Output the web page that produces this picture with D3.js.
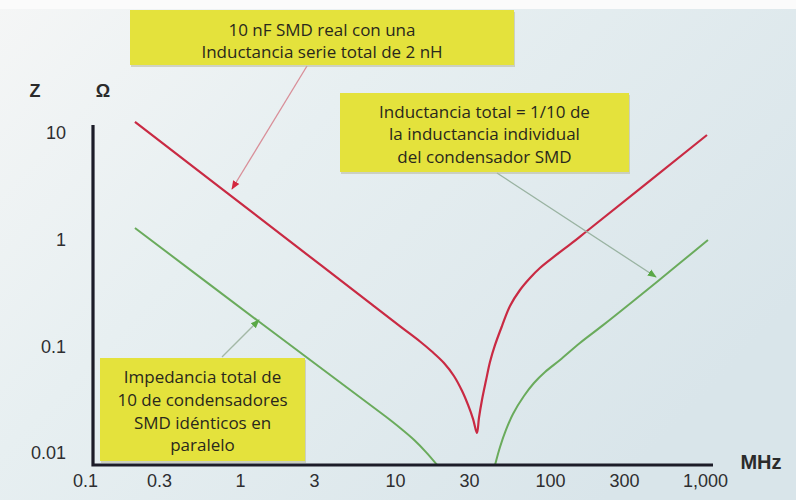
<!DOCTYPE html>
<html>
<head>
<meta charset="utf-8">
<script src="https://cdn.jsdelivr.net/npm/d3@7"></script>
<style>
  html, body { margin: 0; padding: 0; background: #ffffff; }
  svg { display: block; }
</style>
</head>
<body>
<svg id="chart" width="796" height="500"></svg>
<script>
// ---- data (frequency in MHz, impedance in ohms) ----
const xTickValues = [0.1, 0.3, 1, 3, 10, 30, 100, 300, 1000];
const xTickLabels = ["0.1", "0.3", "1", "3", "10", "30", "100", "300", "1,000"];
const yTickValues = [10, 1, 0.1, 0.01];
const yTickLabels = ["10", "1", "0.1", "0.01"];

// 10 nF SMD with 2 nH series inductance
const redFreq = [0.21, 2.44, 10.8, 14.5, 17.3, 20.7, 24.0, 27.1, 29.6, 31.9, 33.8,
                 34.8, 36.4, 38.7, 41.0, 44.2, 49.0, 55.2, 64.0, 74.3, 86.1, 107.7, 138.7, 173.3, 1030];
const redZ    = [12.7, 0.815, 0.154, 0.111, 0.0894, 0.0698, 0.0527, 0.0381, 0.0282, 0.0208, 0.0154,
                 0.0213, 0.0314, 0.0483, 0.0713, 0.103, 0.155, 0.239, 0.3375, 0.4375, 0.542, 0.703, 0.931, 1.206, 9.58];

// 10 identical SMD capacitors in parallel (null = below the axis)
const greenFreq = [0.21, 1.31, 8.62, 10.8, 13.3, 15.85, 18.7, 30,
                   44.2, 47.6, 52.0, 57.7, 67.9, 78.8, 92.9, 116, 156, 220, 498, 1045];
const greenZ    = [1.286, 0.1727, 0.0222, 0.01715, 0.01324, 0.0102, 0.00772, null,
                   0.00772, 0.01138, 0.01644, 0.0232, 0.0342, 0.0453, 0.0574, 0.0745, 0.1075, 0.158, 0.410, 0.993];

const svg = d3.select("#chart");
const W = 796, H = 500;

// background (photographed slide)
const defs = svg.append("defs");
const bg = defs.append("linearGradient").attr("id", "bg")
  .attr("x1", "0").attr("y1", "0").attr("x2", "1").attr("y2", "0.6");
bg.append("stop").attr("offset", "0").attr("stop-color", "#f5f6f6");
bg.append("stop").attr("offset", "0.4").attr("stop-color", "#e7eff1");
bg.append("stop").attr("offset", "1").attr("stop-color", "#d9e5ea");
svg.append("rect").attr("width", W).attr("height", H).attr("fill", "url(#bg)");
svg.append("rect").attr("width", W).attr("height", 9).attr("fill", "#fbfbfb");

// scales
const x = d3.scaleLog().domain([0.1, 1000]).range([85, 705]);
const y = d3.scaleLog().domain([0.01, 10]).range([453, 133]);
const axisX0 = 93, axisY0 = 465;

defs.append("clipPath").attr("id", "plot")
  .append("rect").attr("x", axisX0).attr("y", 0).attr("width", W - axisX0).attr("height", axisY0 - 1);

// markers
function marker(id, color) {
  defs.append("marker").attr("id", id)
    .attr("viewBox", "0 0 10 10").attr("refX", 9).attr("refY", 5)
    .attr("markerWidth", 9).attr("markerHeight", 9)
    .attr("markerUnits", "userSpaceOnUse")
    .attr("orient", "auto")
    .append("path").attr("d", "M0,1 L10,5 L0,9 Z").attr("fill", color);
}
marker("headRed", "#d3283f");
marker("headGreen", "#5aa847");

// curves
const line = d3.line()
  .defined(d => d[1] != null)
  .x(d => x(d[0])).y(d => y(d[1]))
  .curve(d3.curveCatmullRom.alpha(0.5));

const redData = redFreq.map((f, i) => [f, redZ[i]]);
const greenData = greenFreq.map((f, i) => [f, greenZ[i]]);

const g = svg.append("g").attr("clip-path", "url(#plot)");
g.append("path").datum(greenData).attr("d", line)
  .attr("fill", "none").attr("stroke", "#6aab5c").attr("stroke-width", 2);
g.append("path").datum(redData).attr("d", line)
  .attr("fill", "none").attr("stroke", "#c92a43").attr("stroke-width", 2.2);

// axes
const tickFont = "Liberation Sans, Arial, sans-serif";
const xAxis = d3.axisBottom(x).tickValues(xTickValues)
  .tickFormat((d, i) => xTickLabels[i]).tickSize(0).tickPadding(9);
const xg = svg.append("g").attr("transform", `translate(0,${axisY0})`).call(xAxis);
xg.select(".domain").remove();
xg.selectAll("text").attr("font-family", tickFont)
  .attr("font-size", 18).attr("fill", "#2e2e30");

const yAxis = d3.axisLeft(y).tickValues(yTickValues)
  .tickFormat((d, i) => yTickLabels[i]).tickSize(0).tickPadding(27);
const yg = svg.append("g").attr("transform", `translate(${axisX0},0)`).call(yAxis);
yg.select(".domain").remove();
yg.selectAll("text").attr("font-family", tickFont)
  .attr("font-size", 18).attr("fill", "#2e2e30");

svg.append("path")
  .attr("d", `M${axisX0},125 L${axisX0},${axisY0} L713,${axisY0}`)
  .attr("fill", "none").attr("stroke", "#1c1c28").attr("stroke-width", 3.2);

// axis titles
svg.append("text").attr("x", 35).attr("y", 97).attr("text-anchor", "middle")
  .attr("font-family", tickFont).attr("font-weight", "bold")
  .attr("font-size", 18).attr("fill", "#2b2b2b").text("Z");
svg.append("text").attr("x", 103).attr("y", 97).attr("text-anchor", "middle")
  .attr("font-family", tickFont).attr("font-weight", "bold")
  .attr("font-size", 18).attr("fill", "#2b2b2b").text("Ω");
svg.append("text").attr("x", 761).attr("y", 469).attr("text-anchor", "middle")
  .attr("font-family", tickFont).attr("font-weight", "bold")
  .attr("font-size", 20).attr("fill", "#2b2b2b").text("MHz");

// annotation boxes
const boxFont = "Open Sans, Lato, sans-serif";
function box(x0, y0, w, h, lines, lineYs) {
  svg.append("rect").attr("x", x0 + 1).attr("y", y0 + 2).attr("width", w).attr("height", h)
    .attr("fill", "#b8b89a").attr("opacity", 0.55);
  svg.append("rect").attr("x", x0).attr("y", y0).attr("width", w).attr("height", h)
    .attr("fill", "#e4e23c");
  lines.forEach((t, i) => {
    svg.append("text").attr("x", x0 + w / 2).attr("y", lineYs[i])
      .attr("text-anchor", "middle").attr("font-family", boxFont)
      .attr("font-size", 17).attr("fill", "#29281c").text(t);
  });
}
function arrow(x1, y1, x2, y2, lineColor, head) {
  svg.append("line").attr("x1", x1).attr("y1", y1).attr("x2", x2).attr("y2", y2)
    .attr("stroke", lineColor).attr("stroke-width", 1.3)
    .attr("marker-end", `url(#${head})`);
}

arrow(307, 66, 232, 189, "#d88e98", "headRed");
arrow(497, 173, 656, 277, "#9ab3a2", "headGreen");
arrow(222, 357, 259, 320, "#a3b8a6", "headGreen");

box(130, 10, 384, 55, ["10 nF SMD real con una", "Inductancia serie total de 2 nH"], [36, 58]);
box(340, 93, 289, 79, ["Inductancia total = 1/10 de", "la inductancia individual", "del condensador SMD"], [118, 140, 163]);
box(100, 358, 205, 103, ["Impedancia total de", "10 de condensadores", "SMD idénticos en", "paralelo"], [383, 406, 429, 451]);
</script>
</body>
</html>
